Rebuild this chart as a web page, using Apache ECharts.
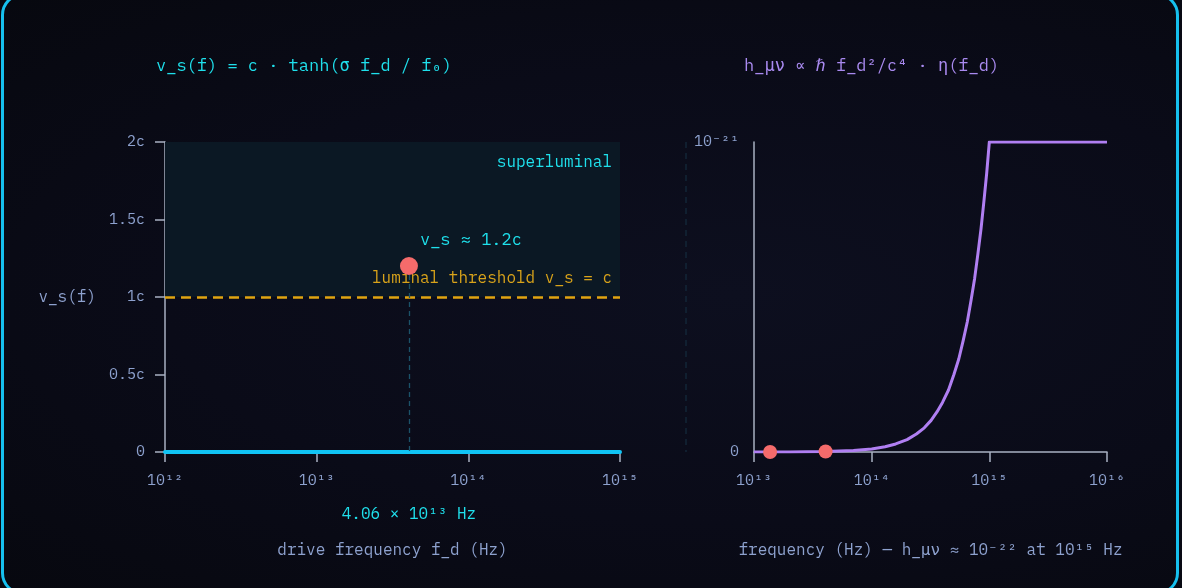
<!DOCTYPE html>
<html>
<head>
<meta charset="utf-8">
<script src="https://cdn.jsdelivr.net/npm/echarts@6/dist/echarts.min.js"></script>
<style>
html, body { margin: 0; padding: 0; background: #07080f; }
#wrap {
    position: relative; width: 1182px; height: 588px; overflow: hidden;
    background: radial-gradient(ellipse at 62% 50%, #0d0f1f 0%, #0a0b18 55%, #07080f 100%);
}
#chart { position: absolute; left: 0; top: 0; width: 1182px; height: 588px; }
#frame {
    position: absolute; left: 1px; top: -7px; width: 1172px; height: 596px;
    border: 3px solid #16c0ee; border-radius: 22px; pointer-events: none;
}
</style>
</head>
<body>
<div id="wrap">
    <div id="chart"></div>
    <div id="frame"></div>
</div>
<script>
// left panel: warp speed vs drive frequency
var driveFreq = [1e12, 1e13, 1e14, 1e15];
var warpSpeed = [0, 0, 0, 0];
var operatingPoint = [4.06e13, 1.2];

// right panel: metric perturbation (units of 1e-21)
var strainFreq = [1e13, 2e13, 4e13, 7e13, 1e14, 1.3e14, 1.6e14, 2e14, 2.4e14, 2.8e14, 3.2e14,
                  3.6e14, 4e14, 4.5e14, 5e14, 5.5e14, 6e14, 6.5e14, 7e14, 7.5e14, 8e14,
                  8.5e14, 9e14, 9.5e14, 1e15, 3e15, 1e16];
var strainAmp = [0.0001, 0.0004, 0.0016, 0.005, 0.01, 0.017, 0.026, 0.04, 0.058, 0.078, 0.102,
                 0.13, 0.16, 0.2, 0.25, 0.3, 0.36, 0.42, 0.49, 0.56, 0.64,
                 0.72, 0.81, 0.9, 1, 1, 1];
var strainMarks = [[1.37e13, 0.0002], [4.06e13, 0.0016]];

var speedTicks = {0: '0', 0.5: '0.5c', 1: '1c', 1.5: '1.5c', 2: '2c'};
var strainTicks = {0: '0', 1: '10⁻²¹'};

var FONT = '"IBM Plex Mono","DejaVu Sans Mono",monospace';
var AXIS = '#a9b1c2', LABEL = '#8ea2cf', CYAN = '#1fe0ec', PURPLE = '#a98af0', RED = '#f56b6b';

var sup = {'0':'⁰','1':'¹','2':'²','3':'³','4':'⁴','5':'⁵','6':'⁶','7':'⁷','8':'⁸','9':'⁹','-':'⁻'};
function pow10(v) {
    var e = String(Math.round(Math.log(v) / Math.LN10));
    return '10' + e.split('').map(function (c) { return sup[c]; }).join('');
}
function zip(a, b) { return a.map(function (x, i) { return [x, b[i]]; }); }

function xAxisOpt(idx, min, max, name) {
    return {
        gridIndex: idx, type: 'log', logBase: 10, min: min, max: max,
        name: name, nameLocation: 'middle', nameGap: 90,
        nameTextStyle: {color: LABEL, fontSize: 16, fontFamily: FONT},
        axisLine: {lineStyle: {color: AXIS, width: 1.5}},
        axisTick: {length: 10, lineStyle: {color: AXIS, width: 1.5}},
        axisLabel: {color: LABEL, fontSize: 15, fontFamily: FONT, margin: 21, formatter: pow10},
        splitLine: {show: false}
    };
}

var chart = echarts.init(document.getElementById('chart'));
chart.setOption({
    backgroundColor: 'transparent',
    textStyle: {fontFamily: FONT},
    title: [
        {text: 'v_s(f) = c · tanh(σ f_d / f₀)', left: 151, top: 53,
         textStyle: {color: CYAN, fontSize: 17, fontWeight: 'normal', fontFamily: FONT}},
        {text: 'h_μν ∝ ℏ f_d²/c⁴ · η(f_d)', left: 739, top: 53,
         textStyle: {color: PURPLE, fontSize: 17, fontWeight: 'normal', fontFamily: FONT}}
    ],
    grid: [
        {left: 165, right: 562, top: 142, bottom: 136},
        {left: 754, right: 75, top: 142, bottom: 136}
    ],
    xAxis: [
        xAxisOpt(0, 1e12, 1e15, 'drive frequency f_d (Hz)'),
        xAxisOpt(1, 1e13, 1e16, 'frequency (Hz) — h_μν ≈ 10⁻²² at 10¹⁵ Hz')
    ],
    yAxis: [
        {
            gridIndex: 0, type: 'value', min: 0, max: 2, interval: 0.5,
            name: 'v_s(f)', nameLocation: 'middle', nameRotate: 0, nameGap: 69,
            nameTextStyle: {color: LABEL, fontSize: 16, fontFamily: FONT, padding: [0, 0, 8, 0]},
            axisLine: {show: true, lineStyle: {color: AXIS, width: 1.5}},
            axisTick: {show: true, length: 10, lineStyle: {color: AXIS, width: 1.5}},
            axisLabel: {color: LABEL, fontSize: 15, fontFamily: FONT, margin: 20,
                        formatter: function (v) { return speedTicks[v]; }},
            splitLine: {show: false}
        },
        {
            gridIndex: 1, type: 'value', min: 0, max: 1, interval: 1,
            axisLine: {show: true, lineStyle: {color: AXIS, width: 1.5}},
            axisTick: {show: false},
            axisLabel: {color: LABEL, fontSize: 15, fontFamily: FONT, margin: 15,
                        formatter: function (v) { return strainTicks[v]; }},
            splitLine: {show: false}
        }
    ],
    graphic: [{
        type: 'line', z: 0,
        shape: {x1: 686, y1: 142, x2: 686, y2: 452},
        style: {stroke: '#152c3e', lineWidth: 1.2, lineDash: [6, 5]}
    }],
    series: [
        {
            type: 'line', xAxisIndex: 0, yAxisIndex: 0, z: 4,
            data: zip(driveFreq, warpSpeed),
            symbol: 'none',
            lineStyle: {color: '#10c4f5', width: 4, cap: 'round'},
            markArea: {
                silent: true,
                itemStyle: {color: '#0b1824'},
                label: {show: true, position: 'insideTopRight', color: CYAN, fontSize: 16,
                        fontFamily: FONT, offset: [-3, 7]},
                data: [[{yAxis: 1, name: 'superluminal'}, {yAxis: 2}]]
            },
            markLine: {
                silent: true, symbol: 'none',
                lineStyle: {color: '#e0a411', width: 2.5, type: [10, 6]},
                label: {position: 'insideEndTop', formatter: 'luminal threshold v_s = c',
                        color: '#d9a31a', fontSize: 16, fontFamily: FONT, distance: [8, 11]},
                data: [{yAxis: 1}]
            }
        },
        {
            type: 'scatter', xAxisIndex: 0, yAxisIndex: 0, z: 6,
            data: [operatingPoint],
            symbolSize: 18,
            itemStyle: {color: RED, opacity: 1},
            label: {show: true, position: 'top', formatter: 'v_s ≈ 1.2c', color: CYAN,
                    fontSize: 17, fontFamily: FONT, offset: [62, -3]},
            markLine: {
                silent: true, symbol: 'none',
                lineStyle: {color: '#1b5269', width: 1.3, type: [5, 4]},
                label: {position: 'end', formatter: '4.06 × 10¹³ Hz', color: CYAN,
                        fontSize: 16, fontFamily: FONT, distance: 54},
                data: [[{coord: operatingPoint}, {coord: [operatingPoint[0], 0]}]]
            }
        },
        {
            type: 'line', xAxisIndex: 1, yAxisIndex: 1, z: 4,
            data: zip(strainFreq, strainAmp),
            symbol: 'none',
            lineStyle: {color: '#b07ff2', width: 3, join: 'round'}
        },
        {
            type: 'scatter', xAxisIndex: 1, yAxisIndex: 1, z: 6,
            data: strainMarks,
            symbolSize: 14,
            itemStyle: {color: RED, opacity: 1}
        }
    ]
});
</script>
</body>
</html>
